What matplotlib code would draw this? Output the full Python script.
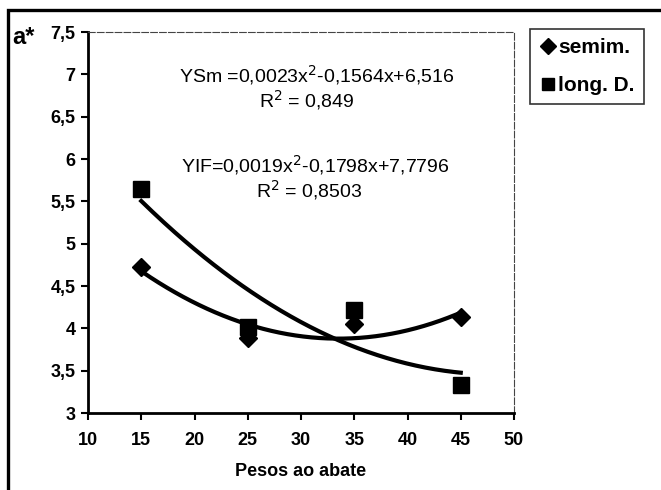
import numpy as np
import matplotlib.pyplot as plt
from matplotlib.patches import Rectangle

plt.rcParams['font.family'] = ['Liberation Sans', 'DejaVu Sans']

# data
pesos = [15, 25, 35, 45]
semim = [4.73, 3.88, 4.05, 4.13]
long_d = [5.65, 4.02, 4.22, 3.33]

eq_semim = ['YSm =0,0023x$^2$-0,1564x+6,516', 'R$^2$ = 0,849']
eq_long = ['YIF=0,0019x$^2$-0,1798x+7,7796', 'R$^2$ = 0,8503']

x_ticks = [10, 15, 20, 25, 30, 35, 40, 45, 50]
y_ticks = [3, 3.5, 4, 4.5, 5, 5.5, 6, 6.5, 7, 7.5]

fig = plt.figure(figsize=(6.61, 4.90), dpi=100)
ax = fig.add_axes([88/661, 1 - 413/490, (514-88)/661, (413-32)/490])

# outer chart frame
fig.patches.append(Rectangle((8/661, -0.05), 1.0, 1 - 10/490 + 0.05,
                             transform=fig.transFigure, fill=False,
                             edgecolor='black', linewidth=2.4))

# trendlines (2nd order polynomial, like excel)
xx = np.linspace(15, 45, 200)
for ys in (semim, long_d):
    c = np.polyfit(pesos, ys, 2)
    ax.plot(xx, np.polyval(c, xx), color='black', linewidth=3, zorder=2)

ax.plot(pesos, semim, linestyle='none', marker='D', markersize=9,
        color='black', label='semim.', zorder=3)
ax.plot(pesos, long_d, linestyle='none', marker='s', markersize=11,
        color='black', label='long. D.', zorder=3)

ax.set_xlim(10, 50)
ax.set_ylim(3, 7.5)
ax.set_xticks(x_ticks)
ax.set_yticks(y_ticks)
ax.set_xticklabels([str(t) for t in x_ticks], fontsize=13, fontweight='bold')
ax.set_yticklabels([('%g' % t).replace('.', ',') for t in y_ticks],
                   fontsize=13, fontweight='bold')
ax.tick_params(direction='out', length=5, width=1.5, pad=4)
ax.tick_params(axis='x', pad=9)

for s in ['left', 'bottom']:
    ax.spines[s].set_linewidth(2)
for s in ['top', 'right']:
    ax.spines[s].set_linewidth(0.8)
    ax.spines[s].set_linestyle((0, (6, 2)))
    ax.spines[s].set_color('#444444')

ax.set_xlabel('Pesos ao abate', fontsize=13, fontweight='bold', labelpad=10)
fig.text(12/661, 1 - 38/490, 'a*', fontsize=17, fontweight='bold', va='center')

ax.text(31.5, 6.99, eq_semim[0], fontsize=14, ha='center', va='center')
ax.text(30.5, 6.70, eq_semim[1], fontsize=14, ha='center', va='center')
ax.text(31.3, 5.93, eq_long[0], fontsize=14, ha='center', va='center')
ax.text(30.8, 5.63, eq_long[1], fontsize=14, ha='center', va='center')

leg = fig.legend(loc='upper left', bbox_to_anchor=(530/661, 1 - 29/490),
                 frameon=True, fancybox=False, edgecolor='black',
                 handletextpad=0.1, handlelength=0.8, borderpad=0.45,
                 labelspacing=0.9, borderaxespad=0,
                 prop={'weight': 'bold', 'size': 15})
leg.get_frame().set_linewidth(1.2)
for h in leg.legend_handles:
    h.set_markersize(8)

fig.savefig('out.png', dpi=100)
